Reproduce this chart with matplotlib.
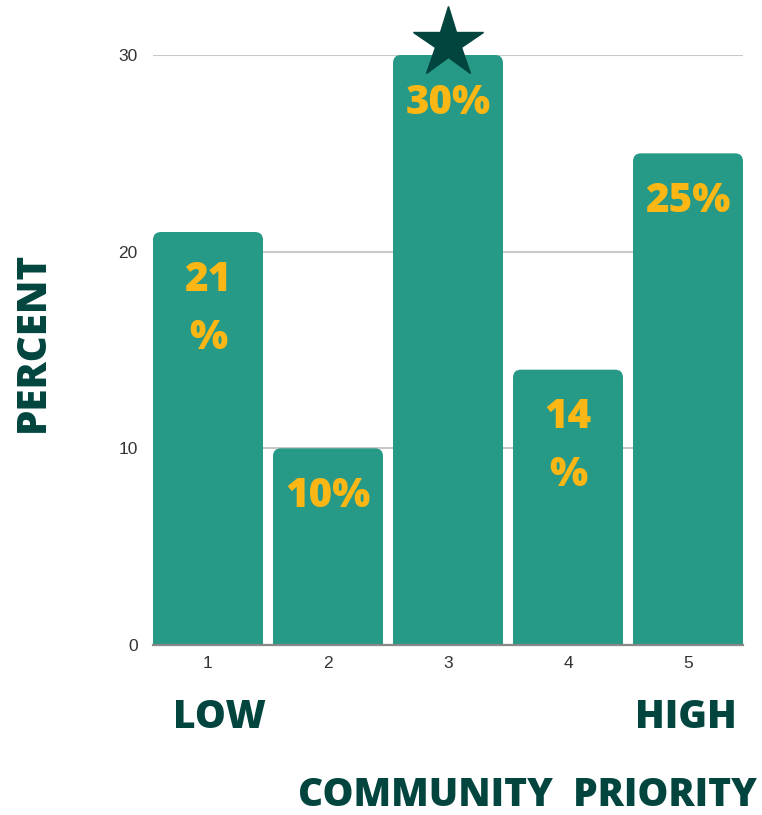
import matplotlib
matplotlib.use("Agg")
import matplotlib.pyplot as plt
from matplotlib.patches import FancyBboxPatch

categories = [1, 2, 3, 4, 5]
values = [21, 10, 30, 14, 25]
labels = ["21\n%", "10%", "30%", "14\n%", "25%"]
yticks = [0, 10, 20, 30]
star_category = 3

TEAL = "#279A87"
DARK = "#02453F"
GOLD = "#FDB714"
BOLD = dict(family=["Open Sans", "DejaVu Sans"], weight="heavy")

fig = plt.figure(figsize=(7.62, 8.15), dpi=100)
ax = fig.add_axes([153/762, 1-645/815, 590/762, 590/815])

bw = 110/120
bars = ax.bar(categories, values, width=bw, color=TEAL, zorder=2)
ax.set_xlim(1 - bw/2, 5 + bw/2)
ax.set_ylim(0, 30)

# rounded top corners
aspect = (590/ (4 + bw)) / (590/30)
r = 8 / (590/(4 + bw))
for b in bars:
    b.set_visible(False)
    x0, w, h = b.get_x(), b.get_width(), b.get_height()
    p = FancyBboxPatch((x0, -2), w, h + 2,
                       boxstyle=f"round,pad=0,rounding_size={r}",
                       mutation_aspect=aspect, facecolor=TEAL,
                       edgecolor="none", zorder=2)
    ax.add_patch(p)

for c, v, lab in zip(categories, values, labels):
    for i, line in enumerate(lab.split("\n")):
        ax.text(c, v - 2.45 - i * 2.95, line, ha="center", va="center",
                color=GOLD, fontsize=29, zorder=4, **BOLD)

ax.plot([star_category], [values[categories.index(star_category)] + 0.6],
        marker="*", markersize=53, color=DARK, zorder=5, clip_on=False,
        linestyle="none")

ax.set_yticks(yticks)
ax.set_xticks(categories)
ax.yaxis.grid(True, color="#c8c8c8", linewidth=1.5, zorder=0)
ax.set_axisbelow(True)
for s in ["left", "right", "top"]:
    ax.spines[s].set_visible(False)
ax.spines["bottom"].set_color("#888888")
ax.spines["bottom"].set_linewidth(1.6)
ax.spines["bottom"].set_zorder(3)
ax.tick_params(axis="both", length=0, labelsize=12.5, labelcolor="#333333",
               labelfontfamily="Liberation Sans")
ax.tick_params(axis="y", pad=11)
ax.tick_params(axis="x", pad=8)

fig.text(219/762, 1-717/815, "LOW", ha="center", va="center", color=DARK,
         fontsize=28, **BOLD)
fig.text(686/762, 1-717/815, "HIGH", ha="center", va="center", color=DARK,
         fontsize=28, **BOLD)
fig.text(527/762, 1-795/815, "COMMUNITY  PRIORITY", ha="center", va="center",
         color=DARK, fontsize=28, **BOLD)
fig.text(33/762, 1-342/815, "PERCENT", ha="center", va="center", color=DARK,
         fontsize=29, rotation=90, **BOLD)

fig.savefig("out.png", dpi=100)
